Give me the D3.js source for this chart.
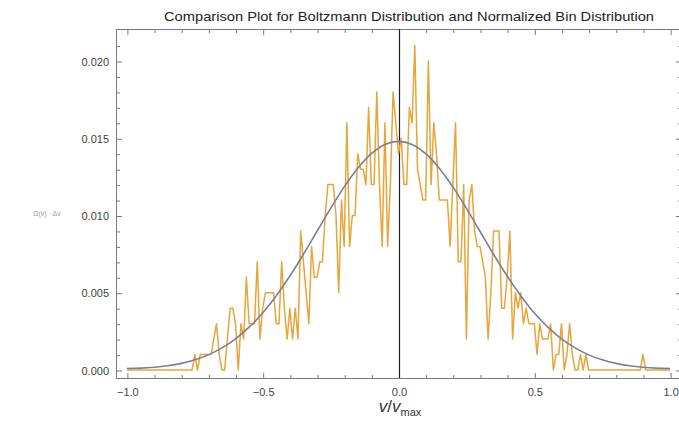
<!DOCTYPE html>
<html>
<head>
<meta charset="utf-8">
<script src="https://cdn.jsdelivr.net/npm/d3@7"></script>
<style>
  body { margin: 0; background: #fff; }
  text { font-family: "Liberation Sans", Arial, sans-serif; }
</style>
</head>
<body>
<svg id="chart" width="679" height="427"></svg>
<script>
const width = 679;
const height = 427;
const frame = { left: 116, right: 681, top: 29, bottom: 378 };

const title = "Comparison Plot for Boltzmann Distribution and Normalized Bin Distribution";
const yLabel = "Ω(v) · Δv";

const xMajorTicks = [-1.0, -0.5, 0.0, 0.5, 1.0];
const xMinorTicks = [-0.9, -0.8, -0.7, -0.6, -0.4, -0.3, -0.2, -0.1, 0.1, 0.2, 0.3, 0.4, 0.6, 0.7, 0.8, 0.9];
const yMajorTicks = [0.0, 0.005, 0.01, 0.015, 0.02];
const yMinorTicks = [0.001, 0.002, 0.003, 0.004, 0.006, 0.007, 0.008, 0.009, 0.011, 0.012, 0.013, 0.014, 0.016, 0.017, 0.018, 0.019, 0.021];

// normalized bin distribution, bins from -1.00 to 1.00 every 0.01, values in units of 0.001
const binStart = -1.0;
const binStep = 0.01;
const binValues = [
  0, 0, 0, 0, 0, 0, 0, 0, 0, 0, 0, 0, 0, 0, 0, 0, 0, 0, 0, 0, 0, 0, 0, 0, // -1.00 .. -0.77
  0, 1, 0, 1, 1, 1, 1, 1, 2, 3, 1, 0, 0, 2, 4, 4, 3, 0, 3, 2,             // -0.76 .. -0.57
  6, 3, 3, 3, 7, 2, 4, 5, 5, 5, 5, 3, 3, 7, 4, 2, 4, 2, 4, 2,             // -0.56 .. -0.37
  9, 7, 5, 3, 8, 6, 6, 7, 7, 10, 12, 12, 12, 10, 5, 11, 8, 16, 8, 10,     // -0.36 .. -0.17
  10, 14, 13, 13, 12, 17, 12, 12, 18, 12, 8, 16, 8, 12, 18, 16,           // -0.16 .. -0.01
  14,                                                                      //  0.00
  15, 12, 12, 17, 16, 21, 13, 12, 11, 11, 20, 12, 16, 14, 11, 11, 11, 11, 8, 12, // 0.01 .. 0.20
  16, 7, 7, 12, 2, 11, 12, 9, 8, 8, 7, 6, 2, 5, 9, 9, 9, 4, 4, 6,          //  0.21 .. 0.40
  9, 2, 5, 4, 5, 3, 4, 3, 3, 3, 1, 3, 2, 2, 2, 3, 0, 1, 1, 3,              //  0.41 .. 0.60
  0, 1, 3, 1, 0, 0, 1, 0, 1, 0, 0, 0, 0, 0, 0, 0, 0, 0, 0, 0,              //  0.61 .. 0.80
  0, 0, 0, 0, 0, 0, 0, 0, 0, 1, 0, 0, 0, 0, 0, 0, 0, 0, 0, 0               //  0.81 .. 1.00
];

// Boltzmann curve read every 0.05 from -1.00 to 1.00
const curveStart = -1.0;
const curveStep = 0.05;
const curveValues = [
  0.0001, 0.00012, 0.00018, 0.00028, 0.00043, 0.00066, 0.00098, 0.00143, 0.00201, 0.00277,
  0.00369, 0.00481, 0.00608, 0.00749, 0.00898, 0.01046, 0.01185, 0.01306, 0.014, 0.0146,
  0.0148,
  0.0146, 0.014, 0.01306, 0.01185, 0.01046, 0.00898, 0.00749, 0.00608, 0.00481, 0.00369,
  0.00277, 0.00201, 0.00143, 0.00098, 0.00066, 0.00043, 0.00028, 0.00018, 0.00012, 0.0001
];

const bins = binValues.map((d, i) => ({ v: binStart + i * binStep, p: d / 1000 }));
const curve = curveValues.map((d, i) => ({ v: curveStart + i * curveStep, p: d }));

const svg = d3.select("#chart");

const x = d3.scaleLinear().domain([-1.04, 1.04]).range([frame.left, frame.right]);
const y = d3.scaleLinear().domain([0, 0.02]).range([370, 61]);

const frameColor = "#7a7a7a";
const labelColor = "#444";

// frame box
svg.append("rect")
  .attr("x", frame.left + 0.5)
  .attr("y", frame.top + 0.5)
  .attr("width", frame.right - frame.left)
  .attr("height", frame.bottom - frame.top)
  .attr("fill", "none")
  .attr("stroke", frameColor);

function styleAxis(g) {
  g.select(".domain").remove();
  g.selectAll(".tick line").attr("stroke", frameColor);
  g.selectAll(".tick text")
    .attr("fill", labelColor)
    .style("font-size", "11px");
}

// bottom axis with labels
const fmtX = (d) => d3.format(".1f")(d).replace("-", "\u2212");
svg.append("g")
  .attr("transform", `translate(0.5,${frame.bottom})`)
  .call(d3.axisBottom(x).tickValues(xMajorTicks).tickSize(-5).tickPadding(10).tickFormat(fmtX))
  .call(styleAxis);
svg.append("g")
  .attr("transform", `translate(0.5,${frame.bottom})`)
  .call(d3.axisBottom(x).tickValues(xMinorTicks).tickSize(-3).tickFormat(""))
  .call(styleAxis);
// top ticks
svg.append("g")
  .attr("transform", `translate(0.5,${frame.top + 1})`)
  .call(d3.axisTop(x).tickValues(xMajorTicks).tickSize(-5).tickFormat(""))
  .call(styleAxis);
svg.append("g")
  .attr("transform", `translate(0.5,${frame.top + 1})`)
  .call(d3.axisTop(x).tickValues(xMinorTicks).tickSize(-3).tickFormat(""))
  .call(styleAxis);

// left axis with labels
svg.append("g")
  .attr("transform", `translate(${frame.left + 1},0.5)`)
  .call(d3.axisLeft(y).tickValues(yMajorTicks).tickSize(-5).tickPadding(8).tickFormat(d3.format(".3f")))
  .call(styleAxis);
svg.append("g")
  .attr("transform", `translate(${frame.left + 1},0.5)`)
  .call(d3.axisLeft(y).tickValues(yMinorTicks).tickSize(-3).tickFormat(""))
  .call(styleAxis);
// right ticks
svg.append("g")
  .attr("transform", `translate(${frame.right},0.5)`)
  .call(d3.axisRight(y).tickValues(yMajorTicks).tickSize(-5).tickFormat(""))
  .call(styleAxis);
svg.append("g")
  .attr("transform", `translate(${frame.right},0.5)`)
  .call(d3.axisRight(y).tickValues(yMinorTicks).tickSize(-3).tickFormat(""))
  .call(styleAxis);

// vertical axis at v = 0
svg.append("line")
  .attr("x1", Math.round(x(0)) + 0.5)
  .attr("x2", Math.round(x(0)) + 0.5)
  .attr("y1", frame.top)
  .attr("y2", frame.bottom)
  .attr("stroke", "#222")
  .attr("stroke-width", 1.2);

// bin distribution
const binLine = d3.line()
  .x((d) => x(d.v))
  .y((d) => y(d.p));

svg.append("path")
  .datum(bins)
  .attr("fill", "none")
  .attr("stroke", "#e7a53a")
  .attr("stroke-width", 1.5)
  .attr("stroke-linejoin", "round")
  .attr("d", binLine);

// Boltzmann curve
const curveLine = d3.line()
  .curve(d3.curveCatmullRom)
  .x((d) => x(d.v))
  .y((d) => y(d.p));

svg.append("path")
  .datum(curve)
  .attr("fill", "none")
  .attr("stroke", "#77809a")
  .attr("stroke-width", 1.6)
  .attr("d", curveLine);

// title
svg.append("text")
  .attr("x", 409)
  .attr("y", 21)
  .attr("text-anchor", "middle")
  .attr("fill", "#222")
  .attr("textLength", 490)
  .attr("lengthAdjust", "spacingAndGlyphs")
  .style("font-size", "13px")
  .text(title);

// y label
svg.append("text")
  .attr("x", 47)
  .attr("y", 216)
  .attr("text-anchor", "middle")
  .attr("fill", "#999")
  .style("font-size", "7px")
  .text(yLabel);

// x label
const xl = svg.append("text")
  .attr("x", 400)
  .attr("y", 412)
  .attr("text-anchor", "middle")
  .attr("fill", "#333")
  .style("font-size", "17px");
xl.append("tspan").style("font-style", "italic").text("v");
xl.append("tspan").text("/");
xl.append("tspan").style("font-style", "italic").text("v");
xl.append("tspan").attr("dy", 4).style("font-size", "11px").text("max");
</script>
</body>
</html>
